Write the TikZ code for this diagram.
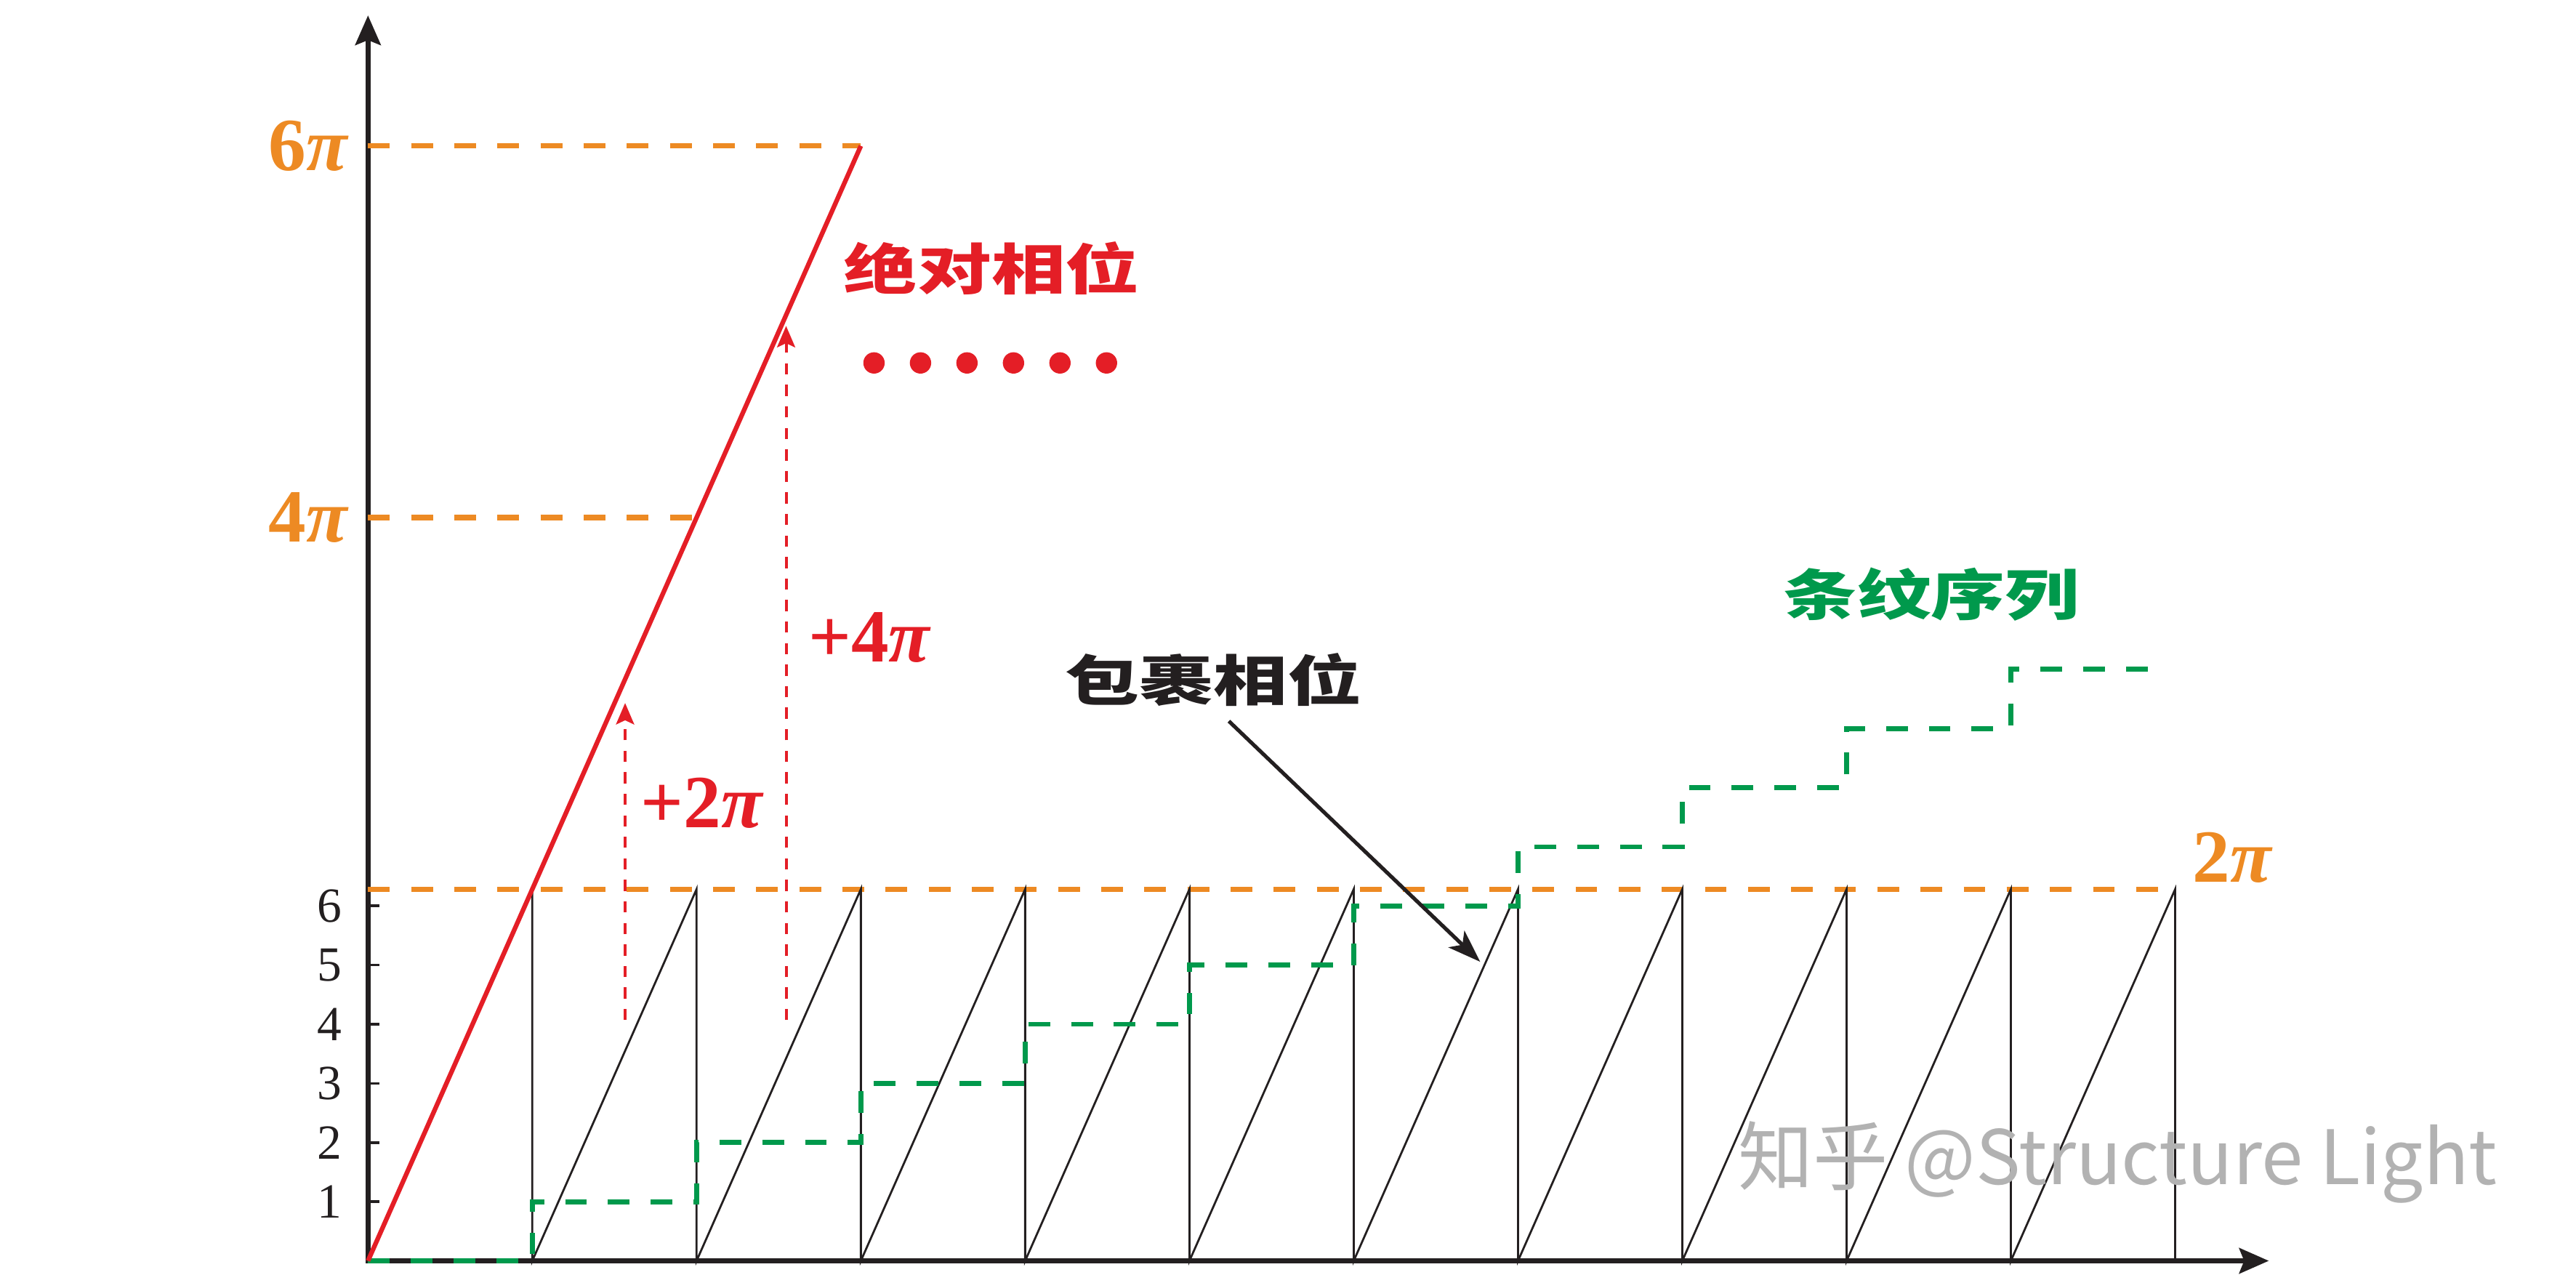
\documentclass[tikz,border=0pt]{standalone}
\usepackage{fontspec}
\setmainfont{Liberation Serif}
\newfontfamily\cjk{Noto Sans CJK SC}
\usepackage{color}
\definecolor{myorange}{RGB}{237,138,35}
\definecolor{myred}{RGB}{228,30,38}
\definecolor{mygreen}{RGB}{0,153,76}
\definecolor{mydark}{RGB}{35,31,32}
\usepackage{tikz}
\usetikzlibrary{arrows.meta}
\newcommand{\period}{2}
\newcommand{\twopi}{4.524}
\newcommand{\rad}{0.72}
\tikzset{
    axisline/.style={draw=mydark, line width=1.7pt,
        {Stealth[length=0.36cm, width=0.31cm, inset=0.06cm]}-{Stealth[length=0.36cm, width=0.31cm, inset=0.06cm]}},
    tickmark/.style={draw=mydark, line width=0.9pt},
    guideline/.style={draw=myorange, line width=1.8pt, dash pattern=on 0.265cm off 0.26cm},
    absline/.style={draw=myred, line width=1.6pt},
    sawline/.style={draw=mydark, line width=0.7pt, line join=miter},
    fringeline/.style={draw=mygreen, line width=1.7pt, dash pattern=on 0.265cm off 0.255cm},
    jumparrow/.style={draw=myred, line width=1pt, dash pattern=on 0.136cm off 0.126cm,
        -{Stealth[length=0.26cm, width=0.22cm, inset=0.05cm]}},
    pointer/.style={draw=mydark, line width=1.3pt, -{Stealth[length=0.4cm, width=0.28cm, inset=0.1cm]}},
    ticklabel/.style={text=mydark, font=\fontsize{17}{17}\selectfont, inner sep=0pt},
    pilabel/.style={text=myorange, font=\bfseries\fontsize{26}{26}\selectfont, inner sep=0pt},
    redlabel/.style={text=myred, font=\bfseries\fontsize{26}{26}\selectfont, inner sep=0pt},
    cnlabel/.style={font=\cjk\bfseries\fontsize{19}{19}\selectfont, inner sep=0pt, xscale=1.35},
    dotmark/.style={circle, fill=myred, inner sep=0pt, minimum size=0.26cm}
}

\begin{document}
\begin{tikzpicture}
    \useasboundingbox (-4.48,-0.172) rectangle (26.88,15.348);

    \coordinate (O) at (0,0);
    \coordinate (ytip) at (0,15.16);
    \coordinate (xtip) at (23.14,0);
    \coordinate (abs-mid) at (2*\period,2*\twopi);
    \coordinate (abs-top) at (3*\period,3*\twopi);
    \coordinate (wrap-end) at (11*\period,\twopi);

    \draw[axisline] (ytip) -- (O) -- (xtip);

    \draw[guideline] (O |- abs-top) -- (abs-top);
    \draw[guideline] (O |- abs-mid) -- (abs-mid);
    \draw[guideline] (O |- wrap-end) -- (wrap-end);

    \draw[sawline] (\period,\twopi) -- (\period,0)
        -- ++(\period,\twopi) -- ++(0,-\twopi)
        -- ++(\period,\twopi) -- ++(0,-\twopi)
        -- ++(\period,\twopi) -- ++(0,-\twopi)
        -- ++(\period,\twopi) -- ++(0,-\twopi)
        -- ++(\period,\twopi) -- ++(0,-\twopi)
        -- ++(\period,\twopi) -- ++(0,-\twopi)
        -- ++(\period,\twopi) -- ++(0,-\twopi)
        -- ++(\period,\twopi) -- ++(0,-\twopi)
        -- ++(\period,\twopi) -- ++(0,-\twopi)
        -- ++(\period,\twopi) -- ++(0,-\twopi);

    \draw[fringeline] (O) -- ++(\period,0)
        -- ++(0,\rad) -- ++(\period,0)
        -- ++(0,\rad) -- ++(\period,0)
        -- ++(0,\rad) -- ++(\period,0)
        -- ++(0,\rad) -- ++(\period,0)
        -- ++(0,\rad) -- ++(\period,0)
        -- ++(0,\rad) -- ++(\period,0)
        -- ++(0,\rad) -- ++(\period,0)
        -- ++(0,\rad) -- ++(\period,0)
        -- ++(0,\rad) -- ++(\period,0)
        -- ++(0,\rad) -- ++(1.8,0);

    \draw[absline] (O) -- (abs-top);

    \draw[tickmark] (0,\rad) -- ++(0.14,0) (0,2*\rad) -- ++(0.14,0) (0,3*\rad) -- ++(0.14,0)
        (0,4*\rad) -- ++(0.14,0) (0,5*\rad) -- ++(0.14,0) (0,6*\rad) -- ++(0.14,0);
    \path (-0.47,\rad) node[ticklabel] (num1) {1}
        ++(0,\rad) node[ticklabel] (num2) {2}
        ++(0,\rad) node[ticklabel] (num3) {3}
        ++(0,\rad) node[ticklabel] (num4) {4}
        ++(0,\rad) node[ticklabel] (num5) {5}
        ++(0,\rad) node[ticklabel] (num6) {6};

    \node[pilabel] (six-pi) at (-0.72,3*\twopi) {6\textit{π}};
    \node[pilabel] (four-pi) at (-0.72,2*\twopi) {4\textit{π}};
    \node[pilabel] (two-pi) at (22.7,4.91) {2\textit{π}};

    \coordinate (jump2-start) at (3.13,2.93);
    \coordinate (jump2-tip) at (3.13,6.79);
    \coordinate (jump4-start) at (5.09,2.93);
    \coordinate (jump4-tip) at (5.09,11.38);
    \draw[jumparrow] (jump2-start) -- (jump2-tip);
    \draw[jumparrow] (jump4-start) -- (jump4-tip);
    \node[redlabel] (plus2) at (4.07,5.57) {+2\textit{π}};
    \node[redlabel] (plus4) at (6.11,7.59) {+4\textit{π}};

    \node[cnlabel, text=myred] (abslabel) at (7.59,12.08) {绝对相位};
    \path (6.16,10.93) node[dotmark] (dot1) {}
        ++(0.566,0) node[dotmark] (dot2) {}
        ++(0.566,0) node[dotmark] (dot3) {}
        ++(0.566,0) node[dotmark] (dot4) {}
        ++(0.566,0) node[dotmark] (dot5) {}
        ++(0.566,0) node[dotmark] (dot6) {};

    \node[cnlabel, text=mydark] (wrapped) at (10.29,7.07) {包裹相位};
    \coordinate (wrap-tip) at (13.54,3.64);
    \draw[pointer] ([xshift=0.19cm, yshift=-0.17cm]wrapped.south) -- (wrap-tip);

    \node[cnlabel, text=mygreen] (fringe) at (19.03,8.11) {条纹序列};

    \node[font=\cjk\fontsize{26}{26}\selectfont, text=black!30, anchor=base] (watermark) at (21.3,0.93) {知乎 @Structure Light};
\end{tikzpicture}
\end{document}
